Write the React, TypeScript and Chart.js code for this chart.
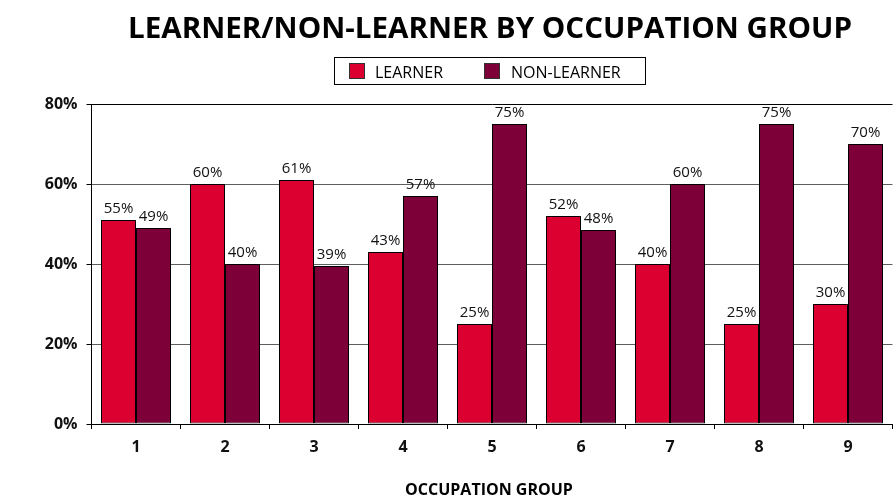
import { useEffect, useRef } from "react";
import { Chart, registerables } from "chart.js";

Chart.register(...registerables);

const categories = ["1", "2", "3", "4", "5", "6", "7", "8", "9"];
const learnerValues = [51, 60, 61, 43, 25, 52, 40, 25, 30];
const learnerLabels = ["55%", "60%", "61%", "43%", "25%", "52%", "40%", "25%", "30%"];
const nonLearnerValues = [49, 40, 39.5, 57, 75, 48.5, 60, 75, 70];
const nonLearnerLabels = ["49%", "40%", "39%", "57%", "75%", "48%", "60%", "75%", "70%"];
const seriesNames = ["LEARNER", "NON-LEARNER"];
const chartTitle = "LEARNER/NON-LEARNER BY OCCUPATION GROUP";
const xAxisTitle = "OCCUPATION GROUP";

const FONT = "'Open Sans', 'Noto Sans', sans-serif";
const RED = "#DC0030";
const MAROON = "#7D0038";

const decorPlugin = {
  id: "decor",
  afterDatasetsDraw(chart: any) {
    const ctx = chart.ctx;
    ctx.save();
    ctx.font = `15px ${FONT}`;
    ctx.fillStyle = "#111";
    ctx.textAlign = "center";
    ctx.textBaseline = "alphabetic";
    const labelSets = [learnerLabels, nonLearnerLabels];
    chart.data.datasets.forEach((_ds: any, di: number) => {
      const meta = chart.getDatasetMeta(di);
      meta.data.forEach((bar: any, i: number) => {
        ctx.fillText(labelSets[di][i], bar.x, bar.y - 7);
      });
    });
    ctx.restore();
  },
  afterDraw(chart: any) {
    const ctx = chart.ctx;
    const area = chart.chartArea;
    ctx.save();
    // title
    ctx.font = `bold 28px ${FONT}`;
    ctx.fillStyle = "#000";
    ctx.textAlign = "center";
    ctx.textBaseline = "alphabetic";
    const targetW = 724;
    const w = ctx.measureText(chartTitle).width;
    const sx = targetW / w;
    ctx.save();
    ctx.translate(490, 38);
    ctx.scale(sx, 1);
    ctx.fillText(chartTitle, 0, 0);
    ctx.restore();

    // legend
    ctx.lineWidth = 1;
    ctx.strokeStyle = "#000";
    ctx.strokeRect(334.5, 57.5, 311, 27);
    const colors = [RED, MAROON];
    const swatchX = [349, 484];
    const textX = [375, 511];
    ctx.font = `16px ${FONT}`;
    ctx.textAlign = "left";
    seriesNames.forEach((name, i) => {
      ctx.fillStyle = colors[i];
      ctx.fillRect(swatchX[i], 63, 15, 15);
      ctx.strokeStyle = "#333";
      ctx.strokeRect(swatchX[i] + 0.5, 63.5, 15, 15);
      ctx.fillStyle = "#000";
      ctx.fillText(name, textX[i], 77.5);
    });

    // x axis title
    ctx.font = `bold 16px ${FONT}`;
    ctx.textAlign = "center";
    ctx.fillStyle = "#000";
    ctx.fillText(xAxisTitle, (area.left + area.right) / 2 - 3, 495);
    ctx.restore();
  },
};

export default function App() {
  const canvasRef = useRef<HTMLCanvasElement | null>(null);

  useEffect(() => {
    if (!canvasRef.current) return;
    const common = {
      borderColor: "#000",
      borderWidth: 1,
      borderSkipped: false,
      inflateAmount: 0,
      categoryPercentage: 70 / 89,
      barPercentage: 1.0,
    };
    const chart = new Chart(canvasRef.current, {
      type: "bar",
      data: {
        labels: categories,
        datasets: [
          { label: seriesNames[0], data: learnerValues, backgroundColor: RED, ...common },
          { label: seriesNames[1], data: nonLearnerValues, backgroundColor: MAROON, ...common },
        ],
      },
      options: {
        responsive: false,
        animation: false,
        devicePixelRatio: 1,
        layout: { padding: { top: 104, right: 0.5, left: 0.5, bottom: 0 } },
        plugins: {
          legend: { display: false },
          title: { display: false },
          tooltip: { enabled: false },
        },
        scales: {
          x: {
            offset: true,
            grid: {
              offset: true,
              drawOnChartArea: false,
              drawTicks: true,
              tickLength: 5,
              color: "#000",
            },
            border: { color: "#000", width: 1 },
            ticks: {
              font: { family: FONT, size: 16, weight: "bold" },
              color: "#111",
              padding: 9,
            },
            afterFit: (s: any) => {
              s.height = 75;
            },
          },
          y: {
            min: 0,
            max: 80,
            ticks: {
              stepSize: 20,
              callback: (v: any) => `${v}%`,
              font: { family: FONT, size: 16, weight: "bold" },
              color: "#111",
              padding: 9,
            },
            grid: {
              color: (c: any) =>
                c.tick && (c.tick.value === 80 || c.tick.value === 0) ? "#000" : "#5e5e5e",
              tickColor: "#000",
              tickLength: 5,
              lineWidth: 1,
            },
            border: { color: "#000", width: 1 },
            afterFit: (s: any) => {
              s.width = 91;
            },
          },
        },
      },
      plugins: [decorPlugin],
    });
    return () => chart.destroy();
  }, []);

  return (
    <div style={{ position: "absolute", left: 0, top: 0, width: 893, height: 499, background: "#fff" }}>
      <canvas ref={canvasRef} width={893} height={499} style={{ display: "block" }} />
    </div>
  );
}
